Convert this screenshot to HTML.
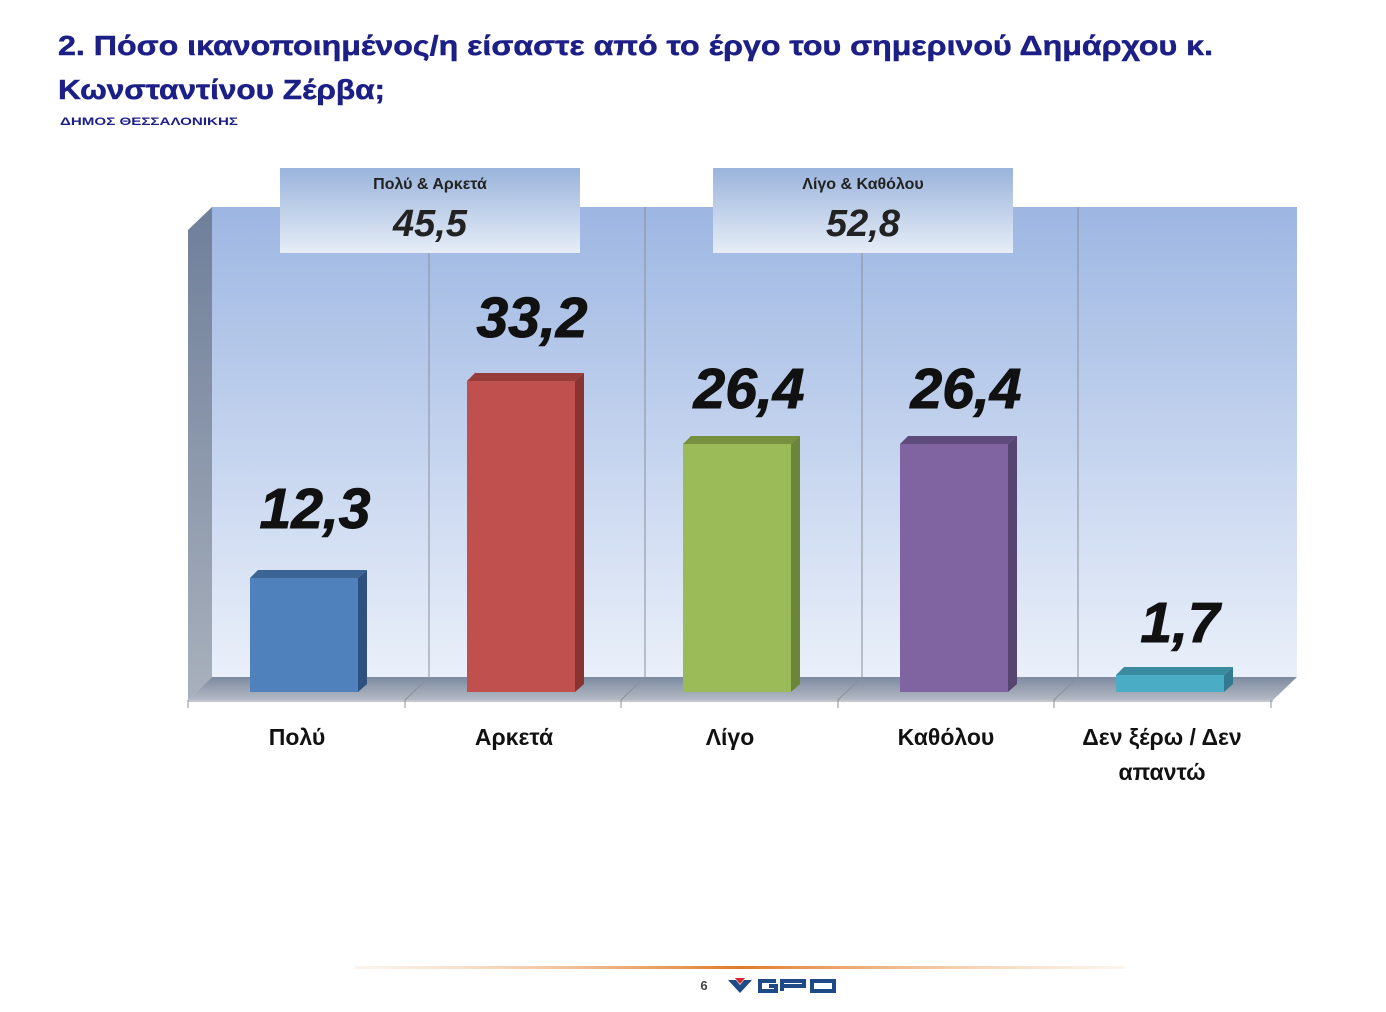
<!DOCTYPE html>
<html><head><meta charset="utf-8"><style>
html,body{margin:0;padding:0;background:#fff;}
svg{display:block;font-family:"Liberation Sans","DejaVu Sans",sans-serif;}
</style></head><body>
<svg width="1386" height="1012" viewBox="0 0 1386 1012" xmlns="http://www.w3.org/2000/svg">
<defs>
<linearGradient id="wall" x1="0" y1="0" x2="0" y2="1">
<stop offset="0" stop-color="#9db6e2"/><stop offset="1" stop-color="#eaf0fa"/></linearGradient>
<linearGradient id="side" x1="0" y1="0" x2="0" y2="1">
<stop offset="0" stop-color="#6f7f9a"/><stop offset="1" stop-color="#a8b0bc"/></linearGradient>
<linearGradient id="floor" x1="0" y1="0" x2="0" y2="1">
<stop offset="0" stop-color="#7d8aa0"/><stop offset="1" stop-color="#b4bac4"/></linearGradient>
<linearGradient id="box" x1="0" y1="0" x2="0" y2="1">
<stop offset="0" stop-color="#9ab4dc"/><stop offset="1" stop-color="#e6edf7"/></linearGradient>
<linearGradient id="hr" x1="0" y1="0" x2="1" y2="0">
<stop offset="0" stop-color="#f3c9a0" stop-opacity="0.2"/><stop offset="0.5" stop-color="#e07a28"/><stop offset="1" stop-color="#f3c9a0" stop-opacity="0.2"/></linearGradient>
</defs>
<g fill="#1c1f86" font-weight="bold" stroke="#1c1f86" stroke-width="0.5">
<text x="58" y="55" font-size="28" textLength="1155" lengthAdjust="spacingAndGlyphs">2. Πόσο ικανοποιημένος/η είσαστε από το έργο του σημερινού Δημάρχου κ.</text>
<text x="58" y="99" font-size="28" textLength="327" lengthAdjust="spacingAndGlyphs">Κωνσταντίνου Ζέρβα;</text>
</g>
<text x="60" y="125" font-size="11" font-weight="bold" fill="#1c1f86" textLength="178" lengthAdjust="spacingAndGlyphs">ΔΗΜΟΣ ΘΕΣΣΑΛΟΝΙΚΗΣ</text>
<rect x="212" y="207" width="1085" height="470" fill="url(#wall)"/>
<polygon points="188,230 212,207 212,677 188,700" fill="url(#side)"/>
<polygon points="212,677 1297,677 1273,700 188,700" fill="url(#floor)"/>
<g stroke="#8a8f98" stroke-width="1">
<line x1="429" y1="207" x2="429" y2="677"/><line x1="645" y1="207" x2="645" y2="677"/>
<line x1="862" y1="207" x2="862" y2="677"/><line x1="1078" y1="207" x2="1078" y2="677"/>
<line x1="429" y1="677" x2="405" y2="700"/><line x1="645" y1="677" x2="621" y2="700"/>
<line x1="862" y1="677" x2="838" y2="700"/><line x1="1078" y1="677" x2="1054" y2="700"/>
<line x1="188" y1="701" x2="1273" y2="701"/>
<line x1="188" y1="700" x2="188" y2="708"/><line x1="405" y1="700" x2="405" y2="708"/>
<line x1="621" y1="700" x2="621" y2="708"/><line x1="838" y1="700" x2="838" y2="708"/>
<line x1="1054" y1="700" x2="1054" y2="708"/><line x1="1271" y1="700" x2="1271" y2="708"/>
</g>
<g>
<rect x="250" y="578" width="108" height="114" fill="#4f81bd"/>
<polygon points="250,578 258,570 367,570 358,578" fill="#3c6494"/>
<polygon points="358,578 367,570 367,684 358,692" fill="#2f5180"/>
<rect x="467" y="381" width="108" height="311" fill="#c0504d"/>
<polygon points="467,381 475,373 584,373 575,381" fill="#983c3a"/>
<polygon points="575,381 584,373 584,684 575,692" fill="#8a3432"/>
<rect x="683" y="444" width="108" height="248" fill="#9bbb59"/>
<polygon points="683,444 691,436 800,436 791,444" fill="#76903f"/>
<polygon points="791,444 800,436 800,684 791,692" fill="#6b8539"/>
<rect x="900" y="444" width="108" height="248" fill="#8064a2"/>
<polygon points="900,444 908,436 1017,436 1008,444" fill="#5f4a7c"/>
<polygon points="1008,444 1017,436 1017,684 1008,692" fill="#574470"/>
<rect x="1116" y="675" width="108" height="17" fill="#4bacc6"/>
<polygon points="1116,675 1124,667 1233,667 1224,675" fill="#3a8aa0"/>
<polygon points="1224,675 1233,667 1233,684 1224,692" fill="#317a8f"/>
</g>
<g font-size="57" font-weight="bold" font-style="italic" fill="#111" text-anchor="middle" stroke="#111" stroke-width="1">
<text x="315" y="528">12,3</text>
<text x="532" y="337">33,2</text>
<text x="749" y="408">26,4</text>
<text x="966" y="408">26,4</text>
<text x="1180" y="642">1,7</text>
</g>
<rect x="280" y="168" width="300" height="85" fill="url(#box)"/>
<rect x="713" y="168" width="300" height="85" fill="url(#box)"/>
<g text-anchor="middle" fill="#222" font-weight="bold">
<text x="430" y="189" font-size="16">Πολύ &amp; Αρκετά</text>
<text x="430" y="236" font-size="38" font-style="italic">45,5</text>
<text x="863" y="189" font-size="16">Λίγο &amp; Καθόλου</text>
<text x="863" y="236" font-size="38" font-style="italic">52,8</text>
</g>
<g text-anchor="middle" fill="#111" font-weight="bold" font-size="23">
<text x="297" y="745">Πολύ</text>
<text x="514" y="745">Αρκετά</text>
<text x="730" y="745">Λίγο</text>
<text x="946" y="745">Καθόλου</text>
<text x="1162" y="745">Δεν ξέρω / Δεν</text>
<text x="1162" y="780">απαντώ</text>
</g>
<rect x="355" y="966" width="770" height="3" fill="url(#hr)"/>
<text x="704" y="990" font-size="13" font-weight="bold" fill="#444" text-anchor="middle">6</text>
<polygon points="728,980 736,980 740,985 744,980 752,980 740,993" fill="#1e4a86"/>
<polygon points="735,978 745,978 740,984" fill="#d9262c"/>
<g fill="none" stroke="#1e4a86" stroke-width="4">
<path d="M776,981 H760 V991 H776 V986 H769"/>
<path d="M782,991 V981 H804 V986 H782"/>
<rect x="812" y="981" width="22" height="10"/>
</g>
</svg>
</body></html>
